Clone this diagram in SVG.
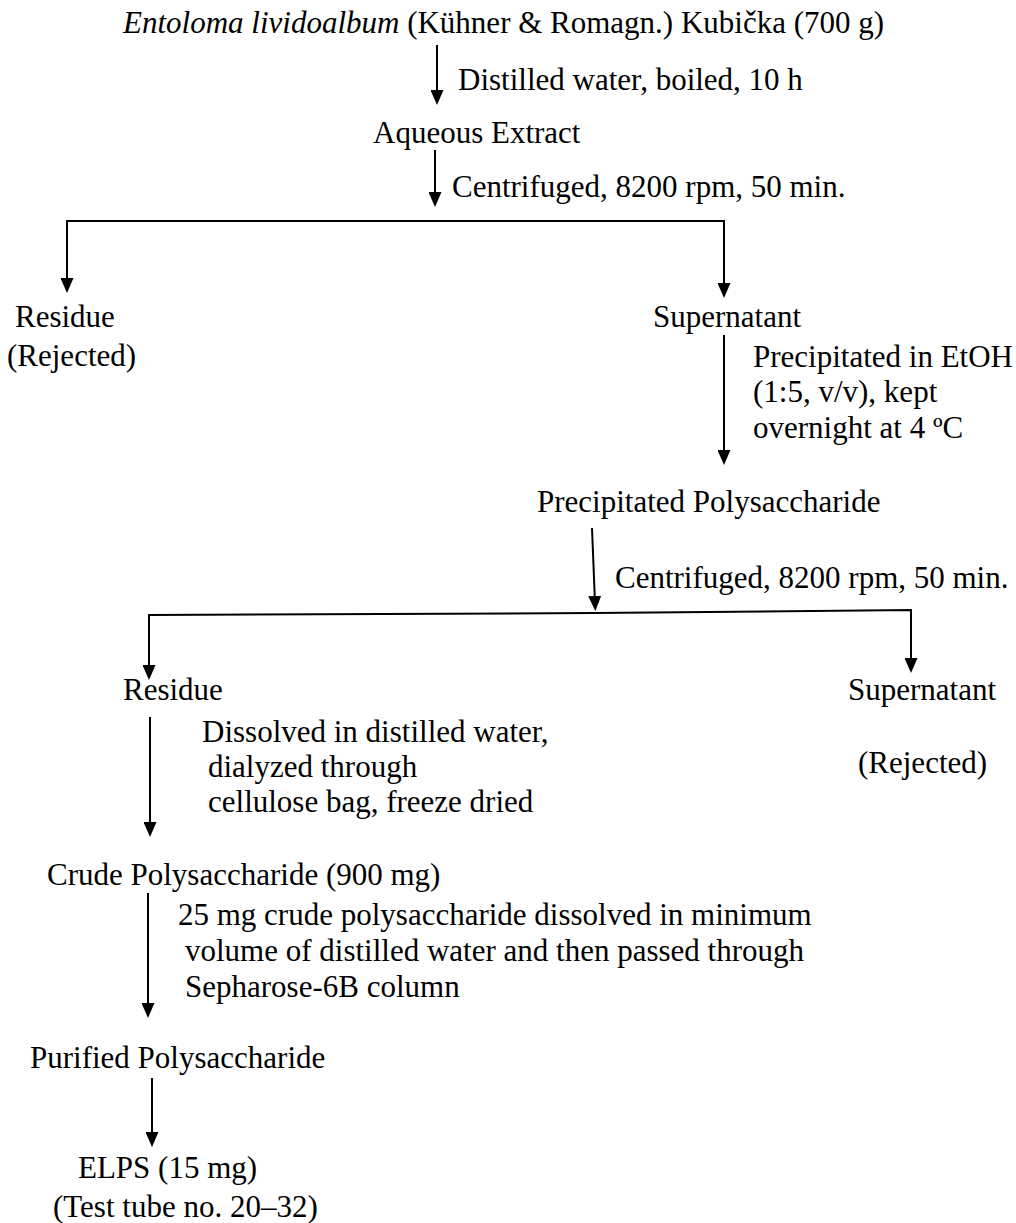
<svg xmlns="http://www.w3.org/2000/svg" width="1016" height="1223" viewBox="0 0 1016 1223">
  <style>
    text { font-family: "Liberation Serif", "Times New Roman", serif; font-size: 31px; fill: #000; }
    .it { font-style: italic; }
    .wire { fill: none; stroke: #000; stroke-width: 2; stroke-linejoin: miter; marker-end: url(#head); }
  </style>
  <defs>
    <!-- solid triangular arrowhead; tip sits 8px past the end of each wire -->
    <marker id="head" markerUnits="userSpaceOnUse" markerWidth="15" markerHeight="13" viewBox="0 0 15 13" refX="7" refY="6.5" orient="auto">
      <path d="M0,0 L15,6.5 L0,13 z" fill="#000"/>
    </marker>
  </defs>

  <rect width="1016" height="1223" fill="#fff"/>

  <!-- connectors -->
  <g id="connectors">
    <path class="wire" d="M437,45 V97"/>
    <path class="wire" d="M435,150 V199"/>
    <path class="wire" d="M435,221 H67 V285"/>
    <path class="wire" d="M435,221 H724 V290"/>
    <path class="wire" d="M724,335 V457"/>
    <path class="wire" d="M592,528 L595,603"/>
    <path class="wire" d="M595,613 L149,615 V672"/>
    <path class="wire" d="M595,613 L911,610 V665"/>
    <path class="wire" d="M150,717 V829"/>
    <path class="wire" d="M148,893 V1010"/>
    <path class="wire" d="M152,1078 V1139"/>
  </g>

  <!-- nodes -->
  <g id="source">
    <text x="123" y="33"><tspan class="it">Entoloma lividoalbum</tspan> (Kühner &amp; Romagn.) Kubička (700 g)</text>
  </g>
  <g id="step-boil">
    <text x="458" y="90">Distilled water, boiled, 10 h</text>
  </g>
  <g id="aqueous-extract">
    <text x="373" y="143">Aqueous Extract</text>
  </g>
  <g id="step-centrifuge-1">
    <text x="452" y="197">Centrifuged, 8200 rpm, 50 min.</text>
  </g>
  <g id="residue-1">
    <text x="15" y="327">Residue</text>
    <text x="7" y="366">(Rejected)</text>
  </g>
  <g id="supernatant-1">
    <text x="653" y="327">Supernatant</text>
  </g>
  <g id="step-precipitate">
    <text x="753" y="367">Precipitated in EtOH</text>
    <text x="753" y="402">(1:5, v/v), kept</text>
    <text x="753" y="438">overnight at 4 ºC</text>
  </g>
  <g id="precipitated-polysaccharide">
    <text x="537" y="512">Precipitated Polysaccharide</text>
  </g>
  <g id="step-centrifuge-2">
    <text x="615" y="588">Centrifuged, 8200 rpm, 50 min.</text>
  </g>
  <g id="residue-2">
    <text x="123" y="700">Residue</text>
  </g>
  <g id="supernatant-2">
    <text x="848" y="700">Supernatant</text>
    <text x="858" y="773">(Rejected)</text>
  </g>
  <g id="step-dialyze">
    <text x="202" y="742">Dissolved in distilled water,</text>
    <text x="208" y="777">dialyzed through</text>
    <text x="208" y="812">cellulose bag, freeze dried</text>
  </g>
  <g id="crude-polysaccharide">
    <text x="47" y="885">Crude Polysaccharide (900 mg)</text>
  </g>
  <g id="step-column">
    <text x="178" y="925">25 mg crude polysaccharide dissolved in minimum</text>
    <text x="185" y="961">volume of distilled water and then passed through</text>
    <text x="185" y="997">Sepharose-6B column</text>
  </g>
  <g id="purified-polysaccharide">
    <text x="30" y="1068">Purified Polysaccharide</text>
  </g>
  <g id="elps">
    <text x="78" y="1178">ELPS (15 mg)</text>
    <text x="53" y="1217">(Test tube no. 20–32)</text>
  </g>
</svg>
